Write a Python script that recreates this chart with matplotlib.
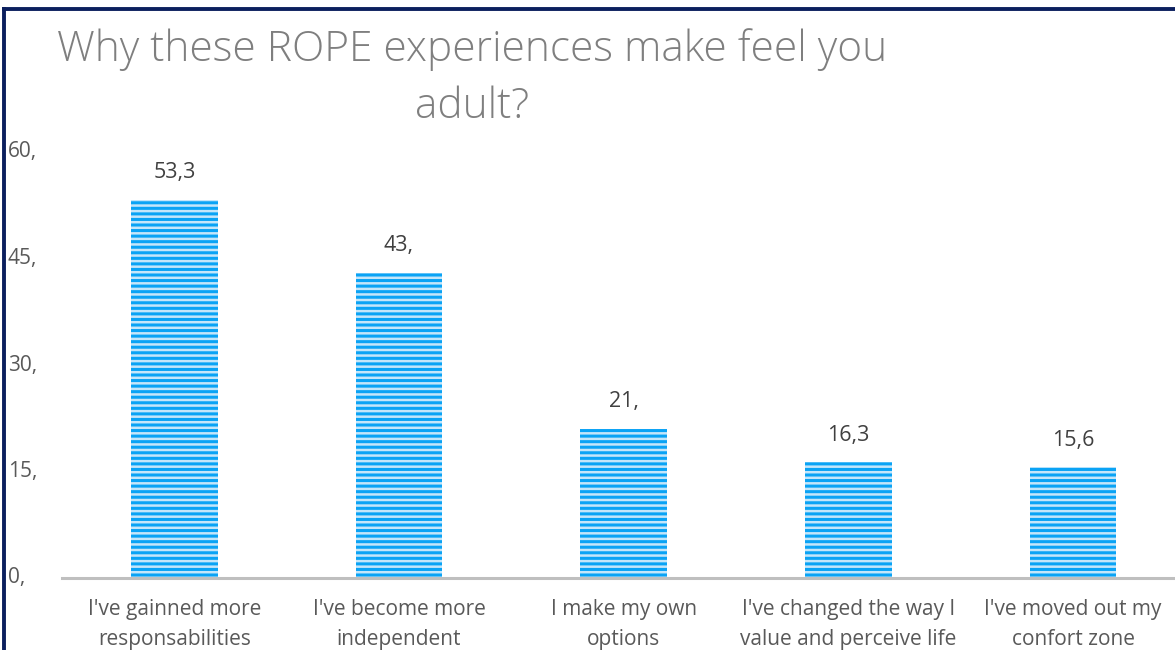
import matplotlib
matplotlib.use("Agg")
import matplotlib.pyplot as plt
from matplotlib.lines import Line2D

categories = [
    "I've gainned more\nresponsabilities",
    "I've become more\nindependent",
    "I make my own\noptions",
    "I've changed the way I\nvalue and perceive life",
    "I've moved out my\nconfort zone",
]
values = [53.3, 43.0, 21.0, 16.3, 15.6]
value_labels = ["53,3", "43,", "21,", "16,3", "15,6"]
yticks = [0, 15, 30, 45, 60]
ytick_labels = ["0,", "15,", "30,", "45,", "60,"]
title = "Why these ROPE experiences make feel you\nadult?"

W, H = 1175, 650
FONT = ["Open Sans", "DejaVu Sans"]
fig = plt.figure(figsize=(W / 100, H / 100), dpi=100)
plt.rcParams["hatch.linewidth"] = 2.2

ax = fig.add_axes([62 / W, 1 - 578 / H, (W - 62) / W, (578 - 152) / H])
x = list(range(len(categories)))
bars = ax.bar(x, values, width=0.385, color="#C4E6FA", edgecolor="#0AA3F5",
              linewidth=0, hatch="---", zorder=2)

ax.set_xlim(-0.5, 4 + (W - 1073) / 225)
ax.set_ylim(0, 60)
for s in ("top", "right", "left"):
    ax.spines[s].set_visible(False)
ax.spines["bottom"].set_color("#BFBFBF")
ax.spines["bottom"].set_linewidth(2.2)
ax.set_yticks([])
ax.set_xticks(x)
ax.set_xticklabels(categories, fontsize=15, color="#595959",
                   family=FONT, linespacing=1.55)
ax.tick_params(axis="x", length=0, pad=15)

for t, lab in zip(yticks, ytick_labels):
    ax.text(8 / W, 1 - (578 - t / 60 * 426) / H, lab, transform=fig.transFigure,
            ha="left", va="center", fontsize=15, color="#595959", family=FONT)

for xi, v, lab in zip(x, values, value_labels):
    ax.annotate(lab, (xi, v), xytext=(0, 19.5), textcoords="offset points",
                ha="center", va="center", fontsize=15.5, color="#404040",
                family=FONT)

fig.text(472 / W, 1 - 78 / H, title, ha="center", va="center",
         multialignment="center", fontsize=30.5, color="#7F7F7F",
         family=FONT, fontweight="light", linespacing=1.45)

# frame edges along the top and left
fig.add_artist(Line2D([4 / W, 1], [1 - 9 / H, 1 - 9 / H], transform=fig.transFigure,
                      color="#0B1F5E", linewidth=2.8))
fig.add_artist(Line2D([4 / W, 4 / W], [0, 1 - 9 / H], transform=fig.transFigure,
                      color="#0B1F5E", linewidth=2.8))

fig.savefig("out.png", dpi=100)
